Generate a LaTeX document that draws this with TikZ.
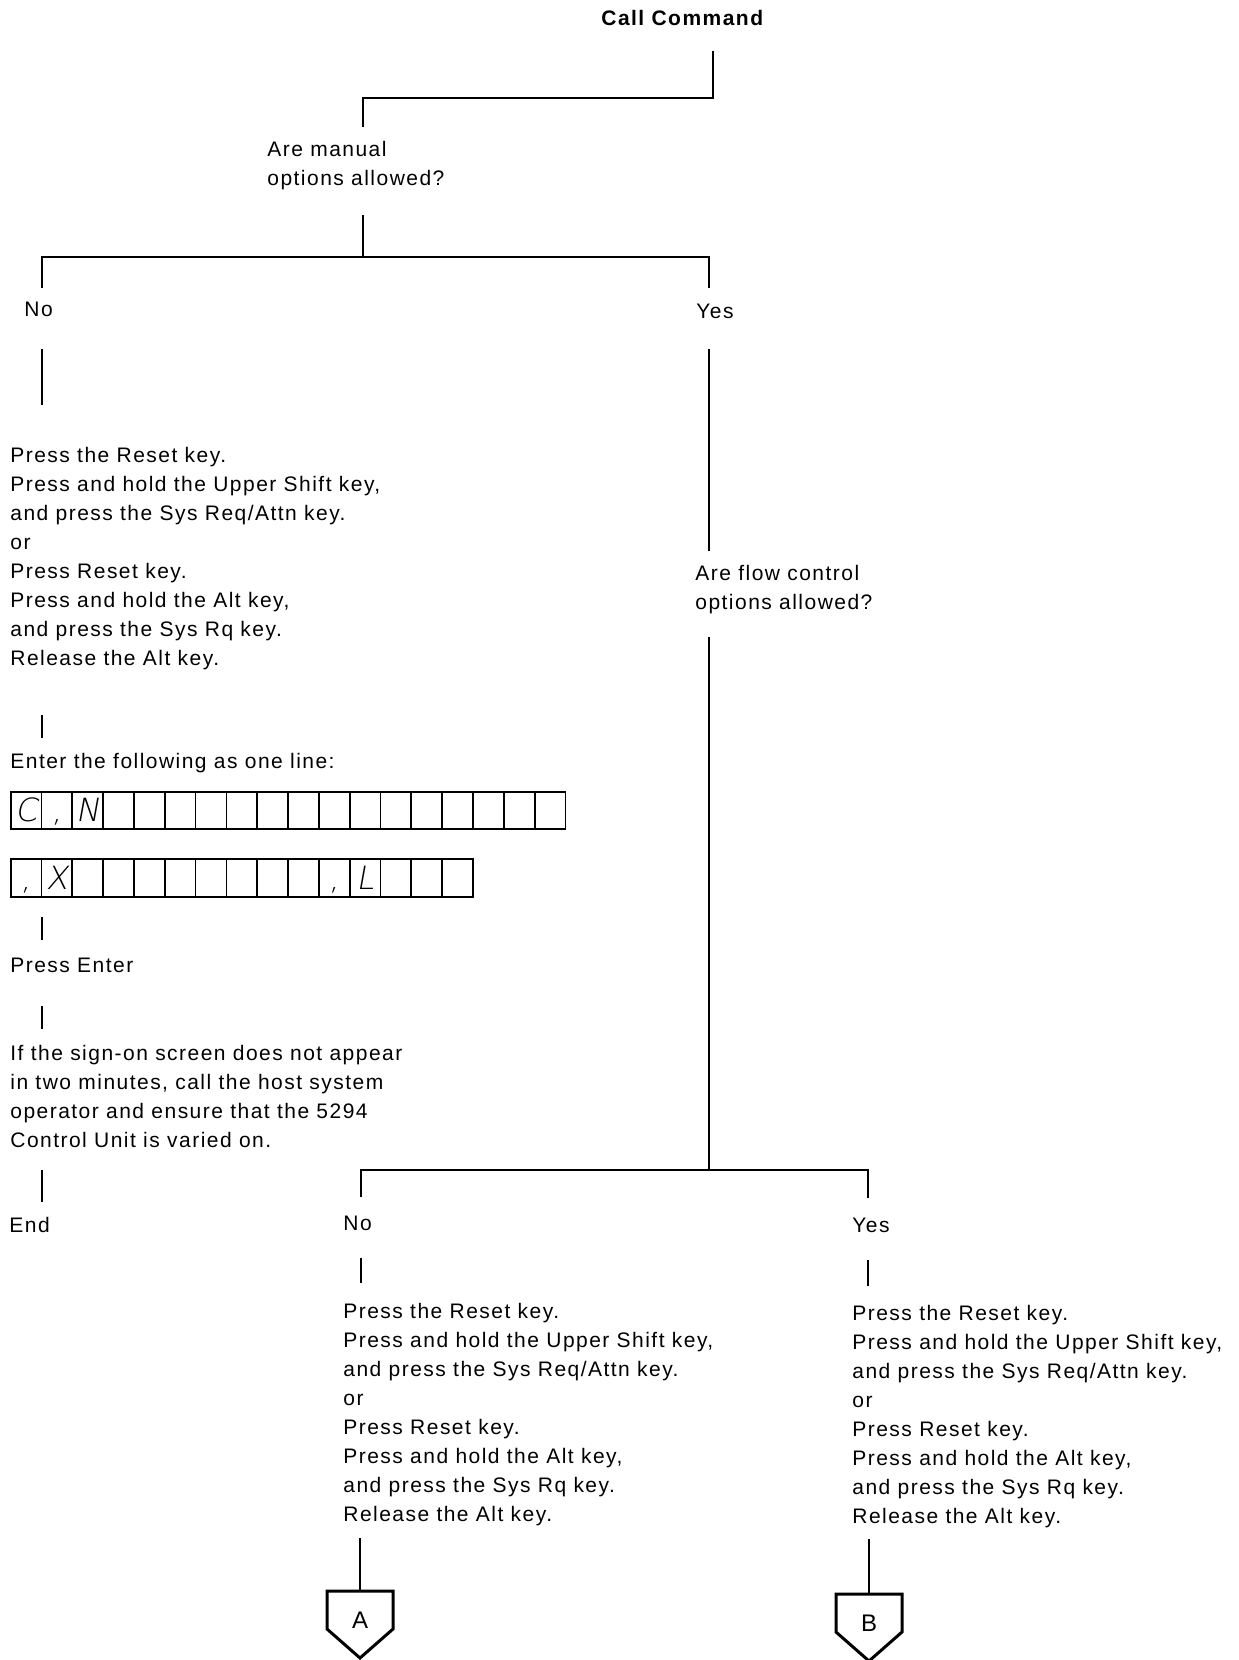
\documentclass[tikz,border=0pt]{standalone}
\usepackage{fontspec}
\setmainfont{Liberation Sans}[LetterSpace=7]
\newfontfamily\handfont{DejaVu Sans ExtraLight}[FakeSlant=0.18]
\usetikzlibrary{calc}

% multi-line nodes sit on the baseline of their last line
\tikzset{
  txt/.style={anchor=base west, align=left, inner sep=0pt, font=\fontsize{10.5}{14.5}\selectfont},
  conn/.style={line width=1pt},
  cell/.style={line width=0.9pt},
  hand/.style={anchor=base, inner sep=0pt, font=\handfont\fontsize{16}{16}\selectfont},
  offpage/.style={line width=1.5pt},
}

\begin{document}
\begin{tikzpicture}[x=0.5pt, y=-0.5pt]
  \useasboundingbox (0,0) rectangle (1238,1660);
  \def\cw{30.83}

  % text
  \node[txt, font=\bfseries\fontsize{10.5}{14.5}\selectfont] (callcmd) at (601,25) {Call Command};
  \node[txt] (manual) at (267,185) {Are manual\\options allowed?};
  \node[txt] (noA) at (24,316) {No};
  \node[txt] (yesA) at (696,318) {Yes};
  \node[txt] (keysL) at (10,665) {Press the Reset key.\\Press and hold the Upper Shift key,\\and press the Sys Req/Attn key.\\or\\Press Reset key.\\Press and hold the Alt key,\\and press the Sys Rq key.\\Release the Alt key.};
  \node[txt] (enter) at (10,768) {Enter the following as one line:};
  \node[txt] (pressenter) at (10,972) {Press Enter};
  \node[txt] (signon) at (10,1147) {If the sign-on screen does not appear\\in two minutes, call the host system\\operator and ensure that the 5294\\Control Unit is varied on.};
  \node[txt] (end) at (9,1232) {End};
  \node[txt] (flow) at (695,609) {Are flow control\\options allowed?};
  \node[txt] (noB) at (343,1230) {No};
  \node[txt] (yesB) at (852,1232) {Yes};
  \node[txt] (keysM) at (343,1521) {Press the Reset key.\\Press and hold the Upper Shift key,\\and press the Sys Req/Attn key.\\or\\Press Reset key.\\Press and hold the Alt key,\\and press the Sys Rq key.\\Release the Alt key.};
  \node[txt] (keysR) at (852,1523) {Press the Reset key.\\Press and hold the Upper Shift key,\\and press the Sys Req/Attn key.\\or\\Press Reset key.\\Press and hold the Alt key,\\and press the Sys Rq key.\\Release the Alt key.};

  % entry fields
  \coordinate (row1) at (10.6,792);
  \coordinate (row2) at (10.6,859);
  \foreach \i in {0,...,17}
    \draw[cell] ($(row1)+(\i*\cw,0)$) rectangle ++(\cw,37);
  \foreach \i in {0,...,14}
    \draw[cell] ($(row2)+(\i*\cw,0)$) rectangle ++(\cw,38);
  \foreach \i/\c in {0/C, 1/{,}, 2/N}
    \node[hand] at ($(row1)+(\i*\cw+0.5*\cw,29)$) {\c};
  \foreach \i/\c in {0/{,}, 1/X, 10/{,}, 11/L}
    \node[hand] at ($(row2)+(\i*\cw+0.5*\cw,30)$) {\c};

  % junctions and line ends
  \coordinate (c0) at (713,51);
  \coordinate (c1) at (713,98);
  \coordinate (c2) at (363,98);
  \coordinate (c3) at (363,127);
  \coordinate (m0) at (363,215);
  \coordinate (m1) at (363,257);
  \coordinate (mL) at (42,257);
  \coordinate (mR) at (709,257);
  \coordinate (mL1) at (42,288);
  \coordinate (mR1) at (709,288);
  \coordinate (n0) at (42,349);
  \coordinate (n1) at (42,405);
  \coordinate (n2) at (42,715);
  \coordinate (n3) at (42,738);
  \coordinate (n4) at (42,917);
  \coordinate (n5) at (42,940);
  \coordinate (n6) at (42,1006);
  \coordinate (n7) at (42,1029);
  \coordinate (n8) at (42,1170);
  \coordinate (n9) at (42,1202);
  \coordinate (y0) at (709,349);
  \coordinate (y1) at (709,551);
  \coordinate (f0) at (709,637);
  \coordinate (f1) at (709,1170);
  \coordinate (fL) at (361,1170);
  \coordinate (fR) at (868,1170);
  \coordinate (fL1) at (361,1197);
  \coordinate (fR1) at (868,1198);
  \coordinate (p0) at (361,1258);
  \coordinate (p1) at (361,1283);
  \coordinate (q0) at (868,1260);
  \coordinate (q1) at (868,1286);
  \coordinate (p2) at (360,1538);
  \coordinate (q2) at (869,1539);

  \draw[conn] (c0) -- (c1) -- (c2) -- (c3);
  \draw[conn] (m0) -- (m1);
  \draw[conn] (mL1) -- (mL) -- (mR) -- (mR1);
  \draw[conn] (n0) -- (n1);
  \draw[conn] (n2) -- (n3);
  \draw[conn] (n4) -- (n5);
  \draw[conn] (n6) -- (n7);
  \draw[conn] (n8) -- (n9);
  \draw[conn] (y0) -- (y1);
  \draw[conn] (f0) -- (f1);
  \draw[conn] (fL1) -- (fL) -- (fR) -- (fR1);
  \draw[conn] (p0) -- (p1);
  \draw[conn] (q0) -- (q1);

  % off-page connectors
  \foreach \n/\cx/\ty in {A/360/1591, B/869/1594} {
    \coordinate (top\n) at (\cx,\ty);
    \node[font=\fontsize{12}{12}\selectfont, inner sep=0pt] (off\n) at (\cx,\ty+29) {\n};
    \draw[offpage] (\cx-33,\ty) -- (\cx+33,\ty) -- (\cx+33,\ty+38) -- (\cx,\ty+67) -- (\cx-33,\ty+38) -- cycle;
  }
  \draw[conn] (p2) -- (topA);
  \draw[conn] (q2) -- (topB);
\end{tikzpicture}
\end{document}
